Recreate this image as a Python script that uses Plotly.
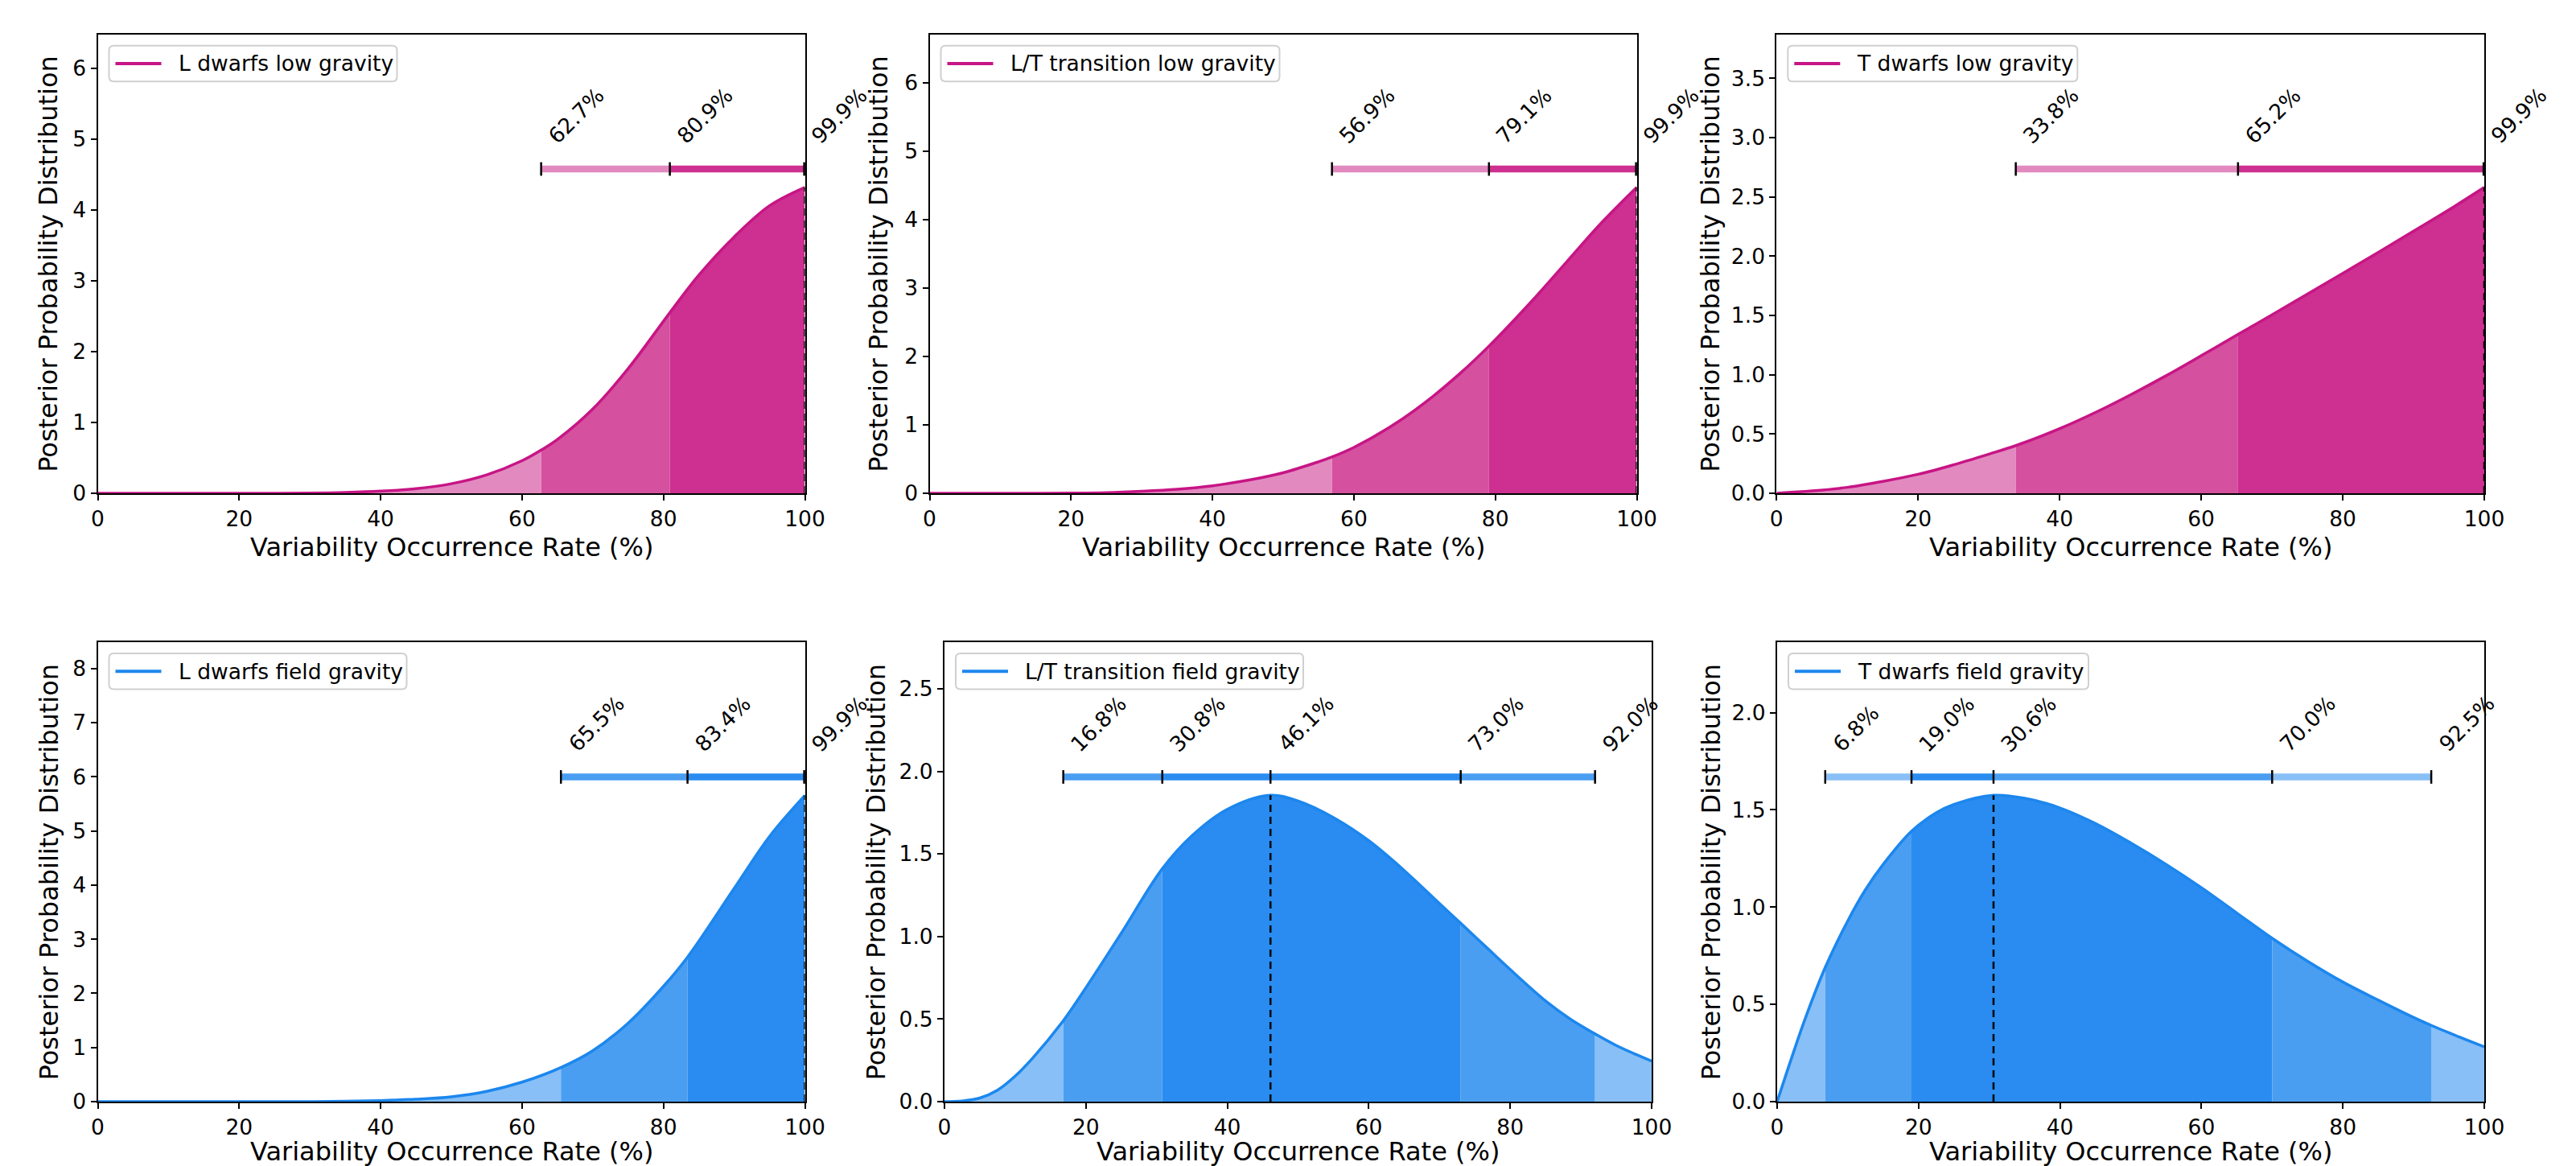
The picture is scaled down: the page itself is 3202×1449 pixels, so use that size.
import plotly.graph_objects as go

W, H = 3202, 1449
OFF = 8  # default page margin around the plot div
FONT = "DejaVu Sans"

# ---------------- data ----------------
names = ["L dwarfs low gravity", "L/T transition low gravity", "T dwarfs low gravity",
         "L dwarfs field gravity", "L/T transition field gravity", "T dwarfs field gravity"]

x_l_low = [0, 5, 10, 15, 20, 25, 30, 35, 40, 45, 50, 55, 60, 62.7, 65, 70, 75, 80.9, 85, 90, 95, 100]
y_l_low = [0, 0, 0, 0, 0, 0.001, 0.004, 0.012, 0.03, 0.065, 0.135, 0.26, 0.46, 0.61, 0.76, 1.19, 1.76,
           2.55, 3.08, 3.62, 4.06, 4.32]

x_lt_low = [0, 5, 10, 15, 20, 25, 30, 35, 40, 45, 50, 55, 56.9, 60, 65, 70, 75, 79.1, 85, 90, 95, 100]
y_lt_low = [0, 0, 0, 0.001, 0.003, 0.01, 0.03, 0.06, 0.11, 0.19, 0.30, 0.46, 0.53, 0.67, 0.96, 1.32,
            1.75, 2.15, 2.79, 3.37, 3.95, 4.47]

x_t_low = [0, 5, 10, 15, 20, 25, 30, 33.8, 40, 45, 50, 55, 60, 65.2, 70, 75, 80, 85, 90, 95, 100]
y_t_low = [0, 0.02, 0.05, 0.10, 0.16, 0.24, 0.33, 0.402, 0.545, 0.68, 0.83, 0.99, 1.16, 1.34,
           1.505, 1.68, 1.855, 2.03, 2.21, 2.39, 2.58]

x_l_field = [0, 5, 10, 15, 20, 25, 30, 35, 40, 45, 50, 55, 60, 65.5, 70, 75, 80, 83.4, 90, 95, 100]
y_l_field = [0, 0, 0, 0, 0, 0, 0.001, 0.006, 0.02, 0.045, 0.09, 0.19, 0.36, 0.63, 0.94, 1.45, 2.13,
             2.67, 3.94, 4.90, 5.66]

x_lt_field = [0, 2.5, 5, 7.5, 10, 12.5, 16.8, 20, 25, 30.8, 35, 40, 46.1, 50, 55, 60, 65, 70, 73,
              76.5, 80, 85, 88.5, 92, 95, 100]
y_lt_field = [0, 0.004, 0.022, 0.07, 0.155, 0.265, 0.49, 0.69, 1.02, 1.41, 1.61, 1.77, 1.855, 1.82,
              1.72, 1.58, 1.40, 1.20, 1.08, 0.94, 0.80, 0.61, 0.50, 0.41, 0.34, 0.245]

x_t_field = [0, 2, 4, 6.8, 10, 12.5, 15, 19, 22.5, 25, 30.6, 35, 40, 45, 50, 55, 60, 65, 70, 75, 80,
             85, 90, 92.5, 95, 100]
y_t_field = [0, 0.22, 0.43, 0.69, 0.93, 1.09, 1.22, 1.39, 1.485, 1.528, 1.575, 1.56, 1.51, 1.43, 1.33,
             1.22, 1.10, 0.97, 0.84, 0.722, 0.615, 0.522, 0.433, 0.392, 0.354, 0.282]

# shaded-region boundaries (credible intervals)
bounds_l_low = [0, 62.7, 80.9, 100]
bounds_lt_low = [0, 56.9, 79.1, 100]
bounds_t_low = [0, 33.8, 65.2, 100]
bounds_l_field = [0, 65.5, 83.4, 100]
bounds_lt_field = [0, 16.8, 30.8, 73.0, 92.0, 100]
bounds_t_field = [0, 6.8, 19.0, 70.0, 92.5, 100]

# interval bar tick values (labels)
bar_l_low = [62.7, 80.9, 99.9]
bar_lt_low = [56.9, 79.1, 99.9]
bar_t_low = [33.8, 65.2, 99.9]
bar_l_field = [65.5, 83.4, 99.9]
bar_lt_field = [16.8, 30.8, 46.1, 73.0, 92.0]
bar_t_field = [6.8, 19.0, 30.6, 70.0, 92.5]

x_ticks = [0, 20, 40, 60, 80, 100]
y_ticks_low = [[0, 1, 2, 3, 4, 5, 6], [0, 1, 2, 3, 4, 5, 6], [0, 0.5, 1.0, 1.5, 2.0, 2.5, 3.0, 3.5]]
y_ticks_field = [[0, 1, 2, 3, 4, 5, 6, 7, 8], [0, 0.5, 1.0, 1.5, 2.0, 2.5], [0, 0.5, 1.0, 1.5, 2.0]]

# ---------------- styles ----------------
PINK = dict(line="#C71585", dark="#CD3090", med="#D5509F", light="#E28AC0")
BLUE = dict(line="#1C87EE", dark="#2A8CF0", med="#4A9EF1", light="#88BFF6")

panels = [
    dict(x=x_l_low, y=y_l_low, b=bounds_l_low, bar=bar_l_low, pal=PINK,
         fills=["light", "med", "dark"], bars=["light", "dark"], yt=y_ticks_low[0], fmt="d"),
    dict(x=x_lt_low, y=y_lt_low, b=bounds_lt_low, bar=bar_lt_low, pal=PINK,
         fills=["light", "med", "dark"], bars=["light", "dark"], yt=y_ticks_low[1], fmt="d"),
    dict(x=x_t_low, y=y_t_low, b=bounds_t_low, bar=bar_t_low, pal=PINK,
         fills=["light", "med", "dark"], bars=["light", "dark"], yt=y_ticks_low[2], fmt=".1f"),
    dict(x=x_l_field, y=y_l_field, b=bounds_l_field, bar=bar_l_field, pal=BLUE,
         fills=["light", "med", "dark"], bars=["med", "dark"], yt=y_ticks_field[0], fmt="d"),
    dict(x=x_lt_field, y=y_lt_field, b=bounds_lt_field, bar=bar_lt_field, pal=BLUE,
         fills=["light", "med", "dark", "med", "light"], bars=["med", "dark", "dark", "med"],
         yt=y_ticks_field[1], fmt=".1f"),
    dict(x=x_t_field, y=y_t_field, b=bounds_t_field, bar=bar_t_field, pal=BLUE,
         fills=["light", "med", "dark", "med", "light"], bars=["light", "dark", "med", "light"],
         yt=y_ticks_field[2], fmt=".1f"),
]

# pixel geometry (page pixels) of plotting areas (left, right, top, bottom)
areas = [
    (121.5, 1000.5, 42.7, 613), (1155.5, 2034.5, 42.7, 613), (2208.3, 3088, 42.7, 613),
    (121.5, 1000.5, 798, 1369), (1174, 2053, 798, 1369), (2209, 3088, 798, 1369),
]
ytitle_x = [60, 1092, 2126, 60, 1088, 2126]
xtitle_y = [680, 680, 680, 1431, 1431, 1431]
legend_w = [358, 421, 360, 370, 432, 373]


def px(v):
    return (v - OFF) / W


def py(v):
    return 1 - (v - OFF) / H


def akey(letter, n):
    return f"{letter}axis" if n == 1 else f"{letter}axis{n}"


def aid(letter, n):
    return letter if n == 1 else f"{letter}{n}"


fig = go.Figure()
shapes = []
annotations = []
layout_axes = {}
TICKFONT = dict(family=FONT, size=26.5, color="black")

n_regions = sum(len(p["b"]) - 1 for p in panels)
region_counter = 0

for i, p in enumerate(panels):
    k = i + 1
    xs, ys, pal = p["x"], p["y"], p["pal"]
    peak = max(ys)
    mode_x = xs[ys.index(peak)]
    l, r, t, btm = areas[i]
    d0, d1 = px(l), px(r)
    ya = aid("y", k)
    main_n = n_regions + k          # visible axis drawn on top of region layers
    xa = aid("x", main_n)

    # shaded regions: the full curve, clipped to each interval by its own hidden x axis
    for j in range(len(p["b"]) - 1):
        region_counter += 1
        a, b = p["b"][j], p["b"][j + 1]
        layout_axes[akey("x", region_counter)] = dict(
            domain=[d0 + a / 100 * (d1 - d0), d0 + b / 100 * (d1 - d0)], range=[a, b],
            visible=False, anchor=ya, automargin=False, fixedrange=True)
        fig.add_trace(go.Scatter(x=xs, y=ys, mode="lines",
                                 line=dict(width=0, shape="spline", simplify=False),
                                 fill="tozeroy", fillcolor=pal[p["fills"][j]], hoverinfo="skip",
                                 showlegend=False, xaxis=aid("x", region_counter), yaxis=ya))

    # curve
    fig.add_trace(go.Scatter(x=xs, y=ys, mode="lines", name=names[i],
                             line=dict(color=pal["line"], width=3.5, shape="spline", simplify=False),
                             showlegend=False, xaxis=xa, yaxis=ya))
    # dashed line at the mode
    fig.add_trace(go.Scatter(x=[mode_x, mode_x], y=[0, peak], mode="lines",
                             line=dict(color="black", width=2.5, dash="9px,6px"),
                             showlegend=False, hoverinfo="skip", xaxis=xa, yaxis=ya, cliponaxis=False))
    # interval bar
    ybar = 1.06 * peak
    for j in range(len(p["bar"]) - 1):
        fig.add_trace(go.Scatter(x=[p["bar"][j], p["bar"][j + 1]], y=[ybar, ybar], mode="lines",
                                 line=dict(color=pal[p["bars"][j]], width=8.5), cliponaxis=False,
                                 showlegend=False, hoverinfo="skip", xaxis=xa, yaxis=ya))
    fig.add_trace(go.Scatter(x=p["bar"], y=[ybar] * len(p["bar"]), mode="markers",
                             marker=dict(symbol="line-ns", size=12, line=dict(color="black", width=2.5)),
                             cliponaxis=False, showlegend=False, hoverinfo="skip", xaxis=xa, yaxis=ya))
    for v in p["bar"]:
        annotations.append(dict(x=v, y=1.12 * peak, xref=xa, yref=ya, text=f"{v:.1f}%",
                                textangle=-45, xanchor="left", yanchor="bottom", showarrow=False,
                                font=dict(family=FONT, size=26.5, color="black")))

    axis_common = dict(showgrid=False, zeroline=False, showline=True, linecolor="black",
                       linewidth=2, mirror=True, ticks="outside", ticklen=7, tickwidth=2,
                       tickcolor="black", tickfont=TICKFONT, automargin=False)
    layout_axes[akey("x", main_n)] = dict(domain=[d0, d1], range=[0, 100], tickvals=x_ticks,
                                          anchor=ya, **axis_common)
    layout_axes[akey("y", k)] = dict(domain=[py(btm), py(t)], range=[0, 1.5 * peak],
                                     tickvals=p["yt"], tickformat=p["fmt"], anchor=xa, **axis_common)

    # axis titles
    annotations.append(dict(x=px(ytitle_x[i]), y=py((t + btm) / 2), xref="paper", yref="paper",
                            text="Posterior Probability Distribution", textangle=-90,
                            showarrow=False, xanchor="center", yanchor="middle",
                            font=dict(family=FONT, size=32, color="black")))
    annotations.append(dict(x=px((l + r) / 2), y=py(xtitle_y[i]), xref="paper", yref="paper",
                            text="Variability Occurrence Rate (%)", showarrow=False,
                            xanchor="center", yanchor="middle", borderpad=0,
                            font=dict(family=FONT, size=32, color="black")))

    # legend box
    bl, bt = l + 14, t + 14
    bw, bh, rr = legend_w[i], 44.5, 6
    br, bb = bl + bw, bt + bh
    path = (f"M {px(bl + rr)},{py(bt)} L {px(br - rr)},{py(bt)} Q {px(br)},{py(bt)} {px(br)},{py(bt + rr)} "
            f"L {px(br)},{py(bb - rr)} Q {px(br)},{py(bb)} {px(br - rr)},{py(bb)} "
            f"L {px(bl + rr)},{py(bb)} Q {px(bl)},{py(bb)} {px(bl)},{py(bb - rr)} "
            f"L {px(bl)},{py(bt + rr)} Q {px(bl)},{py(bt)} {px(bl + rr)},{py(bt)} Z")
    shapes.append(dict(type="path", path=path, xref="paper", yref="paper",
                       line=dict(color="#D0D0D0", width=2), fillcolor="rgba(255,255,255,0.85)"))
    cy = bt + bh / 2
    shapes.append(dict(type="line", xref="paper", yref="paper", x0=px(bl + 8), x1=px(bl + 65),
                       y0=py(cy), y1=py(cy), line=dict(color=pal["line"], width=4)))
    annotations.append(dict(x=px(bl + 84), y=py(cy), xref="paper", yref="paper", text=names[i],
                            showarrow=False, xanchor="left", yanchor="middle",
                            font=dict(family=FONT, size=26.5, color="black")))

fig.update_layout(**layout_axes)
fig.update_layout(width=W, height=H, margin=dict(l=0, r=0, t=0, b=0, autoexpand=False),
                  paper_bgcolor="white", plot_bgcolor="rgba(0,0,0,0)", showlegend=False,
                  shapes=shapes, annotations=annotations, font=dict(family=FONT))

fig.write_html("out.html")
